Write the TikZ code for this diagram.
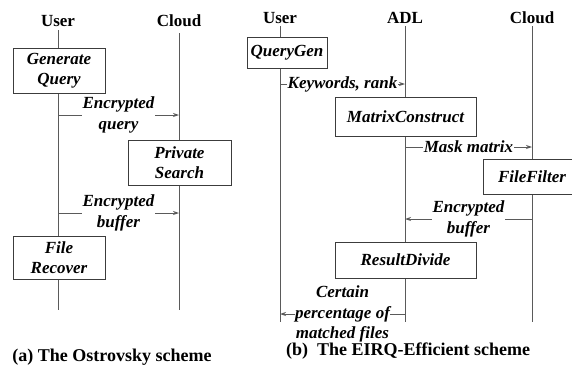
\documentclass[tikz,border=0pt]{standalone}
\usepackage{fontspec}
\setmainfont{Liberation Serif}
\usetikzlibrary{arrows.meta}
\definecolor{lineclr}{HTML}{5A5A5A}
\definecolor{boxclr}{HTML}{3C3C3C}
\tikzset{
  actor/.style={font=\fontsize{17}{20}\selectfont\bfseries, anchor=base, inner sep=0pt},
  lifeline/.style={draw=lineclr, line width=0.9pt},
  proc/.style={draw=boxclr, line width=0.9pt, fill=white, align=center,
    font=\fontsize{17}{20}\selectfont\bfseries\itshape, inner sep=0pt},
  msg/.style={draw=lineclr, line width=0.9pt, -{Stealth[length=6pt,width=4pt]}},
  lbl/.style={fill=white, inner sep=1pt, align=center,
    font=\fontsize{17}{20.5}\selectfont\bfseries\itshape},
  caption/.style={font=\fontsize{18}{21}\selectfont\bfseries, anchor=base, inner sep=0pt},
}
\begin{document}
\begin{tikzpicture}[x=1pt,y=-1pt]
\useasboundingbox (0,0) rectangle (572,364);

% ---- (a) Ostrovsky scheme ----
\node[actor] (aU) at (58,26) {User};
\node[actor] (aC) at (179,26) {Cloud};
\coordinate (aUtop) at (58,30);  \coordinate (aUbot) at (58,310);
\coordinate (aCtop) at (179,33); \coordinate (aCbot) at (179,310);
\draw[lifeline] (aUtop) -- (aUbot);
\draw[lifeline] (aCtop) -- (aCbot);

\node[proc, minimum width=92pt, minimum height=45pt] (gq) at (59,70.5) {Generate\\Query};
\node[proc, minimum width=103pt, minimum height=45pt] (ps) at (179.5,162.5) {Private\\Search};
\node[proc, minimum width=92pt, minimum height=43pt] (fr) at (59,257.5) {File\\Recover};

\coordinate (q1) at (58,115);  \coordinate (q2) at (179,115);
\draw[msg] (q1) -- node[lbl] {Encrypted\\query} (q2);
\coordinate (b1) at (58,213);  \coordinate (b2) at (179,213);
\draw[msg] (b1) -- node[lbl] {Encrypted\\buffer} (b2);

\node[caption] (capa) at (112,361) {(a) The Ostrovsky scheme};

% ---- (b) EIRQ-Efficient scheme ----
\node[actor] (bU) at (280,23) {User};
\node[actor] (bA) at (405,23) {ADL};
\node[actor] (bC) at (532,23) {Cloud};
\coordinate (bUtop) at (280,26); \coordinate (bUbot) at (280,322);
\coordinate (bAtop) at (405,26); \coordinate (bAbot) at (405,322);
\coordinate (bCtop) at (532,26); \coordinate (bCbot) at (532,322);
\draw[lifeline] (bUtop) -- (bUbot);
\draw[lifeline] (bAtop) -- (bAbot);
\draw[lifeline] (bCtop) -- (bCbot);

\node[proc, minimum width=80pt, minimum height=31pt] (qg) at (287,52.5) {QueryGen};
\node[proc, minimum width=141pt, minimum height=39pt] (mc) at (405.5,116.5) {MatrixConstruct};
\node[proc, minimum width=98pt, minimum height=35pt] (ff) at (532,176.5) {FileFilter};
\node[proc, minimum width=141pt, minimum height=36pt] (rd) at (405.5,260) {ResultDivide};

\coordinate (k1) at (280,84);  \coordinate (k2) at (405,84);
\draw[msg] (k1) -- node[lbl, inner sep=0.5pt] {Keywords, rank} (k2);
\coordinate (m1) at (405,147); \coordinate (m2) at (532,147);
\draw[msg] (m1) -- node[lbl] {Mask matrix} (m2);
\coordinate (e1) at (532,219); \coordinate (e2) at (405,219);
\draw[msg] (e1) -- node[lbl] {Encrypted\\buffer} (e2);
\coordinate (c1) at (405,314); \coordinate (c2) at (280,314);
\draw[msg] (c1) -- node[lbl, inner sep=0.5pt] {Certain\\percentage of\\matched files} (c2);

\node[caption] (capb) at (408,355) {(b)\ \ The EIRQ-Efficient scheme};
\end{tikzpicture}
\end{document}
